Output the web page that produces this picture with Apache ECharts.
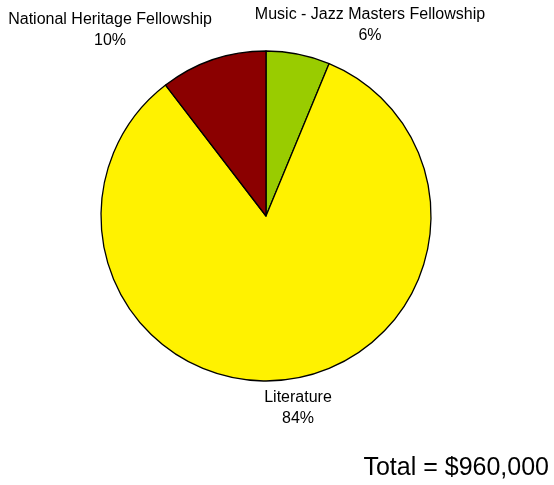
<!DOCTYPE html>
<html>
<head>
<meta charset="utf-8">
<script src="https://cdn.jsdelivr.net/npm/echarts@6/dist/echarts.min.js"></script>
<style>html,body{margin:0;padding:0;background:#fff;}#chart{width:554px;height:485px;}</style>
</head>
<body>
<div id="chart"></div>
<script>
const categories = ["Music - Jazz Masters Fellowship", "Literature", "National Heritage Fellowship"];
const values = [60000, 800000, 100000];
const percentLabels = ["6%", "84%", "10%"];
const colors = ["#99CC00", "#FFF200", "#8B0000"];
const totalLabel = "Total = $960,000";

const labelPos = [[370, 25], [298, 408], [110, 30]];

const chart = echarts.init(document.getElementById('chart'));
chart.setOption({
  backgroundColor: '#fff',
  animation: false,
  title: {
    text: totalLabel,
    right: 5, top: 456, padding: 0,
    textStyle: { fontFamily: 'Liberation Sans', fontSize: 25, fontWeight: 'normal', color: '#000' }
  },
  series: [{
    type: 'pie',
    center: [266, 216],
    radius: 165,
    startAngle: 90,
    clockwise: true,
    data: categories.map((c, i) => ({ name: c, value: values[i], itemStyle: { color: colors[i] } })),
    itemStyle: { borderColor: '#000', borderWidth: 1.3 },
    label: {
      show: true,
      position: 'outside',
      formatter: p => p.name + '\n' + percentLabels[p.dataIndex],
      fontFamily: 'Liberation Sans', fontSize: 16, color: '#000', lineHeight: 21, align: 'center',
      overflow: 'none', width: 300
    },
    labelLine: { show: false },
    labelLayout: p => ({ x: labelPos[p.dataIndex][0], y: labelPos[p.dataIndex][1], align: 'center', verticalAlign: 'middle' }),
    emphasis: { disabled: true }
  }]
});
</script>
</body>
</html>
